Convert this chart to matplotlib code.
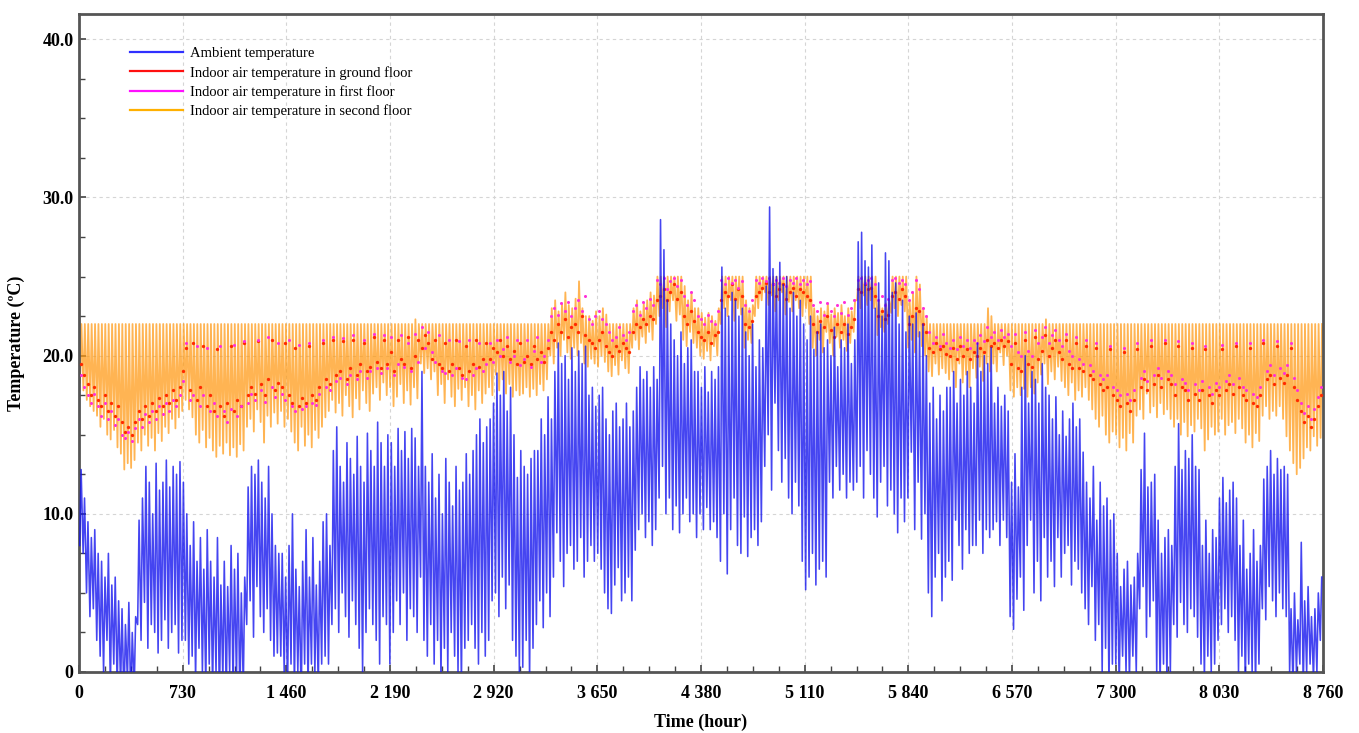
import numpy as np
import matplotlib
matplotlib.use("Agg")
import matplotlib.pyplot as plt
from matplotlib.lines import Line2D
from matplotlib.ticker import MultipleLocator

plt.rcParams['font.family'] = ['Liberation Serif', 'DejaVu Serif']

# ---------------- data (one value per day) ----------------
amb_max = [
    12.8, 11.0, 9.5, 8.5, 9.0, 7.5, 7.0, 6.0, 7.5, 5.5, 6.0, 4.5, 4.0, 3.0, 4.4, 2.5, 3.5, 9.6, 11.0, 13.0, 12.0, 10.0, 13.2, 11.5, 12.0, 13.4, 11.7, 13.0, 12.5, 13.3, 12.0,
    10.0, 8.0, 9.5, 7.0, 8.5, 6.5, 9.0, 7.0, 6.0, 8.5, 5.5, 7.0, 5.4, 8.0, 6.5, 7.5, 5.0, 6.0, 11.7, 13.0, 12.5, 13.4, 12.0, 11.0, 13.0, 10.0, 8.0, 7.5,
    7.5, 6.0, 8.0, 10.0, 6.5, 5.4, 7.0, 9.0, 6.0, 8.5, 5.5, 7.0, 9.5, 10.0, 8.0, 14.0, 15.5, 13.0, 12.0, 14.5, 13.5, 12.5, 14.9, 13.0, 12.0, 15.1, 14.0, 13.0, 15.8, 14.5, 13.0,
    15.0, 14.5, 13.0, 15.4, 14.0, 15.2, 13.5, 15.4, 14.8, 13.0, 19.0, 13.0, 12.0, 13.8, 11.0, 12.5, 10.0, 13.5, 12.0, 10.5, 13.0, 11.5, 12.0, 13.8, 12.5, 14.0, 15.0, 16.0, 14.5, 15.5,
    16.0, 17.0, 18.9, 17.5, 19.0, 16.5, 18.0, 15.0, 12.3, 14.0, 13.0, 12.5, 13.5, 14.0, 14.0, 16.0, 15.0, 17.4, 16.0, 19.0, 20.8, 19.5, 20.0, 18.5, 20.5, 19.0, 20.3, 19.5, 20.6, 17.5, 18.0,
    16.8, 17.5, 18.0, 16.0, 15.0, 16.5, 17.0, 15.5, 16.0, 17.0, 15.5, 16.5, 18.0, 19.3, 18.5, 19.0, 18.0, 19.3, 18.5, 28.6, 26.7, 23.5, 22.0, 21.0, 20.0, 21.5, 19.5, 20.5, 21.0, 19.0,
    19.0, 18.0, 19.3, 17.7, 19.0, 18.5, 19.3, 25.6, 23.0, 22.5, 24.0, 23.5, 22.5, 23.0, 21.5, 20.0, 22.0, 19.3, 21.0, 20.5, 24.4, 29.4, 25.5, 25.0, 25.9, 24.5, 25.0, 23.0, 24.0, 22.5, 23.5,
    22.0, 21.0, 22.5, 20.4, 21.5, 22.0, 20.5, 21.0, 20.0, 21.8, 19.3, 21.0, 20.5, 22.0, 19.5, 21.0, 27.2, 27.8, 26.0, 25.6, 27.0, 23.0, 24.6, 22.5, 26.5, 26.0, 24.0, 24.6, 22.0, 23.5, 21.5,
    22.5, 22.0, 22.7, 21.5, 22.0, 20.0, 17.0, 18.0, 16.0, 17.5, 16.5, 18.0, 18.0, 19.0, 17.0, 18.5, 17.5, 19.0, 18.0, 17.0, 20.8, 19.0, 20.0, 19.5, 20.5, 17.0, 18.0, 16.8, 17.5, 16.5,
    12.0, 13.8, 11.7, 18.0, 20.0, 17.0, 19.0, 18.5, 17.0, 19.5, 18.0, 17.5, 16.0, 17.4, 15.0, 16.5, 14.9, 16.0, 17.0, 15.5, 16.0, 13.9, 12.0, 11.0, 13.0, 9.6, 12.0, 10.5, 11.0, 9.6, 10.0,
    7.5, 5.4, 6.5, 7.0, 5.5, 6.0, 7.5, 12.8, 15.1, 11.7, 12.0, 12.5, 9.6, 7.5, 8.5, 9.0, 8.0, 13.0, 15.7, 12.8, 14.0, 13.5, 15.0, 13.0, 12.8, 8.0, 9.6, 7.5, 9.0, 8.5,
    11.0, 12.3, 10.7, 11.5, 12.0, 11.0, 8.0, 9.6, 6.5, 7.5, 9.0, 7.0, 8.0, 12.2, 13.0, 14.0, 12.5, 13.5, 12.8, 13.0, 12.5, 4.0, 5.0, 3.3, 8.2, 4.5, 5.4, 3.5, 4.0, 5.0, 6.0,
]
amb_min = [
    8.0, 7.5, 5.0, 3.5, 4.0, 2.0, 1.0, 0.0, 2.0, -1.0, 0.5, -1.0, -1.0, -2.0, -0.5, -2.0, -1.0, 3.0, 2.0, 4.4, 1.5, 3.0, 2.5, 1.2, 2.0, 3.3, 1.5, 2.5, 3.0, 1.2, 2.0,
    2.0, 0.5, 1.0, -0.5, 1.5, 0.0, -1.0, 0.5, -1.0, 0.0, -2.0, -0.5, -1.5, 0.0, -1.0, -0.5, -2.0, -1.0, 3.0, 4.5, 2.2, 5.4, 3.5, 2.5, 4.0, 2.0, 1.0, 1.2,
    1.0, 0.0, -1.0, 0.5, -1.0, 0.0, -2.0, 0.5, -1.0, 0.5, 0.0, -1.0, 0.5, 1.0, 0.5, 3.0, 4.0, 2.5, 5.0, 3.5, 2.2, 4.5, 3.0, 1.5, 0.0, 2.5, 4.0, 3.0, 2.0, 0.5, 3.5,
    3.0, 0.5, 2.5, 4.5, 3.0, 5.0, 2.0, 4.0, 3.5, 2.5, 6.0, 2.0, 1.0, 3.0, 0.5, 2.0, -0.5, 1.5, 0.0, 2.5, 1.0, 0.0, -1.0, 1.5, 2.0, 3.0, 1.5, 0.5, 2.5, 1.0,
    2.0, 4.5, 5.0, 3.5, 6.0, 4.0, 5.5, 2.0, 1.0, 0.0, 0.3, 2.0, -0.5, 1.5, 3.0, 4.5, 2.8, 5.0, 3.5, 6.0, 8.8, 7.0, 5.4, 7.5, 8.0, 6.5, 7.0, 8.5, 6.0, 7.0, 8.0,
    7.0, 7.5, 6.5, 5.0, 4.0, 3.7, 5.5, 6.6, 4.5, 5.0, 6.0, 4.5, 7.7, 9.0, 10.0, 8.5, 9.5, 8.0, 9.0, 11.0, 13.0, 10.0, 11.0, 9.0, 10.5, 8.8, 10.0, 11.0, 9.5, 10.0,
    8.5, 10.0, 9.0, 10.4, 9.0, 9.5, 8.5, 7.0, 10.0, 6.2, 9.0, 11.0, 8.0, 7.5, 9.8, 7.3, 8.5, 9.0, 8.0, 9.5, 13.0, 15.0, 11.5, 17.0, 14.0, 12.0, 13.5, 11.0, 10.0, 12.0, 10.5,
    7.0, 5.2, 6.0, 7.5, 5.5, 6.5, 7.0, 6.0, 12.0, 11.0, 13.0, 11.5, 12.5, 11.0, 12.0, 11.5, 12.0, 13.0, 11.0, 14.0, 12.5, 11.0, 9.8, 12.0, 13.0, 10.5, 11.5, 10.0, 8.8, 11.0, 9.5,
    11.0, 13.9, 9.0, 12.0, 8.4, 10.0, 5.0, 3.5, 6.0, 7.5, 4.5, 6.0, 7.0, 5.8, 9.6, 8.0, 6.5, 9.0, 7.5, 8.0, 8.0, 9.6, 7.5, 9.0, 8.5, 9.0, 9.5, 8.0, 9.6, 8.5,
    3.5, 2.7, 4.6, 6.0, 3.9, 8.0, 9.6, 5.0, 7.0, 4.5, 8.5, 6.0, 7.0, 5.4, 8.5, 6.0, 7.5, 8.0, 5.5, 7.0, 6.5, 5.0, 4.0, 3.0, 5.4, 2.0, 3.0, 0.0, 1.5, -1.0, 0.5,
    0.5, -1.0, 1.0, 0.0, -0.5, 1.0, 0.0, 4.0, 5.4, 2.2, 3.5, 4.5, 0.0, -1.0, 0.5, -0.5, 0.0, 3.0, 2.2, 4.4, 3.0, 2.5, 4.0, 3.5, 2.2, 0.5, -0.5, 1.0, 0.0, 0.5,
    2.0, 3.0, 4.0, 2.5, 3.5, 2.0, 0.0, 1.0, -1.0, 0.5, 0.0, -1.0, 0.5, 4.0, 3.3, 5.4, 4.5, 3.5, 5.0, 4.0, 3.5, 0.0, -1.0, 0.0, 0.5, -1.0, 0.0, 0.5, -0.5, 0.0, 2.0,
]
second_hi = [
    22, 22, 22, 22, 22, 22, 22, 22, 22, 22, 22, 22, 22, 22, 22, 22, 22, 22, 22, 22, 22, 22, 22, 22, 22, 22, 22, 22, 22, 22, 22,
    22, 22, 22, 22, 22, 22, 22, 22, 22, 22, 22, 22, 22, 22, 22, 22, 22, 22, 22, 22, 22, 22, 22, 22, 22, 22, 22, 22,
    22, 22, 22, 22, 22, 22, 22, 22, 22, 22, 22, 22, 22, 22, 22, 22, 22, 22, 22, 22, 22, 22, 22, 22, 22, 22, 22, 22, 22, 22, 22,
    22, 22, 22, 22, 22, 22, 22, 22, 22.3, 22, 22, 22, 22, 22, 22, 22, 22, 22, 22, 22, 22, 22, 22, 22, 22, 22, 22, 22, 22, 22,
    22, 22, 22, 22, 22, 22, 22, 22, 22, 22, 22, 22, 22, 22, 22, 22, 22, 22, 23, 23.5, 22.8, 23.3, 24, 23.2, 23, 23.6, 24.7, 23, 22.5, 22.5, 22.2,
    22.8, 22.5, 23, 22.6, 22, 22, 22, 22, 22, 22, 22, 23, 23.5, 22.8, 23.3, 23.5, 24, 23.8, 25, 25, 25, 25, 25, 25, 25, 25, 24.4, 23.5, 24, 23,
    23, 22.7, 22.4, 22.7, 22.5, 22.2, 23, 25, 25, 25, 25, 25, 25, 25, 23.5, 23, 23.2, 25, 25, 25, 25, 25, 25, 25, 25, 25, 25, 25, 25, 25, 25,
    25, 25, 25, 23, 22.5, 23, 22.8, 23.3, 22.6, 23, 22.7, 23.2, 22.5, 23, 22.8, 23.5, 25, 25, 25, 25, 25, 25, 23.5, 23, 23.3, 23.5, 25, 25, 25, 25, 25,
    23.5, 24, 25, 24.5, 23, 22.5, 22, 22, 22, 22, 22, 22, 22, 22, 22, 22, 22, 22, 22, 22, 22, 22, 22, 23, 22.5, 22, 22, 22, 22, 22,
    22, 22, 22, 22, 22, 22, 22, 22, 22, 22, 22.3, 22, 22, 22, 22, 22, 22, 22, 22, 22, 22, 22, 22, 22, 22, 22, 22, 22, 22, 22, 22,
    22, 22, 22, 22, 22, 22, 22, 22, 22, 22, 22, 22, 22, 22, 22, 22, 22, 22, 22, 22, 22, 22, 22, 22, 22, 22, 22, 22, 22, 22,
    22, 22, 22, 22, 22, 22, 22, 22, 22, 22, 22, 22, 22, 22, 22, 22, 22, 22, 22, 22, 22, 22, 22, 22, 22, 22, 22, 22, 22, 22, 22,
]
second_lo = [
    18.3, 17.8, 17.2, 16.8, 16.5, 16.2, 15.5, 16.0, 15.0, 14.7, 15.3, 14.2, 13.8, 12.8, 13.2, 12.9, 13.4, 14.5, 14.0, 15.0, 14.3, 14.8, 14.0, 15.1, 14.6, 15.5, 15.1, 16.0, 15.4, 16.1, 16.5,
    17.2, 16.6, 16.1, 15.0, 14.5, 15.3, 14.2, 14.8, 14.0, 13.6, 14.3, 13.8, 14.5, 13.7, 14.2, 13.6, 14.4, 14.0, 15.5, 16.0, 15.2, 16.6, 15.8, 14.5, 16.2, 15.5, 16.4, 15.7,
    16.5, 15.5, 16.0, 15.2, 14.5, 14.0, 15.5, 14.3, 15.0, 14.2, 15.3, 14.8, 15.5, 16.1, 16.5, 17.2, 16.4, 17.0, 16.2, 17.5, 16.8, 16.1, 17.3, 16.6, 17.8, 17.0, 16.5, 17.6, 18.0, 17.2, 18.3,
    17.5, 18.0, 16.8, 17.4, 18.2, 17.0, 17.8, 16.9, 18.0, 17.3, 19.5, 18.9, 19.2, 18.5, 19.0, 17.5, 18.2, 17.0, 18.5, 17.4, 16.8, 17.9, 17.2, 18.0, 16.8, 17.5, 16.6, 17.8, 17.0, 17.6,
    18.0, 17.5, 18.8, 17.8, 18.5, 17.6, 18.2, 17.4, 17.8, 17.5, 17.6, 18.0, 17.4, 17.9, 17.5, 18.2, 17.8, 18.5, 20.0, 19.5, 20.5, 20.0, 21.0, 20.2, 19.8, 20.5, 20.0, 20.8, 19.5, 19.3, 19.8,
    19.5, 19.3, 20.0, 19.6, 19.0, 18.7, 19.4, 18.8, 19.7, 19.2, 18.9, 20.5, 21.0, 20.4, 21.2, 20.8, 21.5, 21.0, 22.0, 22.5, 23.0, 21.8, 22.8, 23.5, 22.2, 22.6, 21.0, 20.6, 21.5, 20.8,
    20.5, 20.0, 19.8, 20.3, 19.7, 20.6, 20.0, 22.0, 23.0, 22.5, 23.5, 22.2, 23.0, 22.6, 20.5, 21.0, 20.8, 22.5, 23.0, 23.5, 24.0, 23.2, 23.8, 22.8, 23.5, 24.0, 22.6, 23.4, 22.8, 23.5, 23.0,
    22.5, 23.0, 22.0, 20.5, 20.0, 21.0, 20.2, 21.5, 20.8, 20.0, 21.2, 20.5, 21.0, 20.3, 20.8, 21.5, 23.5, 23.0, 23.8, 23.2, 23.5, 23.0, 21.3, 21.8, 21.5, 22.0, 22.7, 23.0, 22.5, 23.2, 22.8,
    20.5, 21.0, 20.2, 21.2, 20.6, 20.0, 19.0, 18.7, 19.5, 18.8, 19.2, 18.9, 18.5, 19.0, 18.0, 19.5, 18.3, 18.8, 18.0, 19.2, 18.6, 19.3, 18.4, 19.5, 19.0, 19.5, 19.0, 20.2, 19.4, 20.0,
    17.8, 17.4, 18.0, 17.5, 17.9, 17.4, 18.0, 17.6, 18.3, 18.8, 19.5, 18.2, 19.0, 18.5, 19.3, 18.4, 18.0, 17.5, 18.3, 17.2, 17.8, 17.4, 18.0, 17.2, 16.6, 16.0, 15.5, 16.2, 15.0, 14.5, 15.2,
    15.0, 14.2, 14.8, 14.0, 15.1, 14.5, 16.2, 16.6, 16.0, 17.6, 16.4, 16.8, 16.1, 17.0, 16.3, 16.6, 16.0, 15.5, 16.0, 15.0, 15.8, 14.9, 15.6, 15.2, 16.0, 15.4, 14.0, 14.7, 15.5, 15.0,
    15.2, 16.0, 15.0, 15.6, 15.8, 15.1, 16.0, 15.4, 14.5, 15.0, 14.2, 15.1, 14.6, 16.2, 16.8, 16.0, 16.5, 16.2, 16.8, 16.0, 14.9, 14.0, 13.2, 12.5, 12.9, 13.5, 14.2, 14.0, 14.9, 14.3, 14.8,
]
ground = [
    19.5, 18.8, 18.2, 17.5, 18, 17.2, 16.8, 17.5, 16.5, 17, 16.2, 16.8, 15.8, 15.2, 15.5, 15, 15.8, 16.5, 16, 16.8, 16.2, 17, 16.5, 17.3, 16.8, 17.5, 17, 17.8, 17.2, 18, 19,
    20.5, 17.8, 20.8, 17.2, 18, 20.6, 16.8, 17.5, 16.5, 20.4, 16.8, 16.2, 17, 20.6, 16.5, 17.2, 16.8, 20.8, 17.5, 18, 17.6, 20.9, 18.2, 17.5, 18.5, 21, 17.8, 18.3,
    18, 20.8, 17.5, 17, 20.5, 16.8, 17.3, 17, 20.6, 17.5, 17.2, 18, 20.8, 18.5, 18.2, 21, 18.8, 19, 20.9, 18.5, 19.2, 21, 18.8, 19.5, 20.8, 19, 19.3, 21.2, 19.6, 19.2, 21,
    19.5, 20.2, 19, 21, 19.8, 19.5, 21.2, 19.2, 20, 21, 20.5, 21.3, 20.8, 19.8, 21, 19.5, 19.2, 20.8, 19, 19.5, 21, 19.2, 18.8, 20.6, 19, 19.5, 21, 19.3, 19.8, 20.8,
    19.8, 20.5, 20.2, 21, 20, 20.6, 19.8, 20.3, 19.5, 20.8, 19.6, 20, 19.5, 20.6, 19.8, 20.2, 19.6, 20.5, 21.5, 21, 22, 21.5, 22.3, 21.2, 21.8, 22, 21.5, 22.5, 21.3, 21, 20.8,
    20.5, 21, 21.5, 20.6, 20.2, 20, 20.6, 20.3, 20.8, 20.5, 20.2, 21.5, 22, 21.8, 22.3, 22, 22.5, 22.3, 23.5, 23.8, 24.2, 23.5, 24, 24.5, 23.6, 24, 22.5, 22, 22.8, 22.2,
    21.5, 21.2, 21, 21.5, 20.8, 21.3, 21.5, 23.5, 24, 23.8, 24.5, 23.6, 24.2, 23.8, 22, 21.8, 22.2, 23.8, 24, 24.3, 24.6, 24, 24.5, 23.8, 24.2, 24.5, 23.6, 24, 24.3, 23.8, 24.2,
    24, 23.8, 23.5, 22, 21.5, 22.2, 21.8, 22.5, 21.6, 21.2, 22, 21.5, 22, 21.4, 21.8, 22.3, 24.2, 24, 24.5, 24.2, 24.3, 23.8, 22.5, 22.8, 22.3, 22.6, 23.8, 24, 23.6, 24.2, 23.8,
    22, 22.5, 23, 22.8, 22, 21.5, 20.5, 20.2, 20.8, 20.4, 20.6, 20.1, 20, 20.5, 19.8, 20.6, 20, 20.4, 19.8, 20.2, 20, 20.5, 20.2, 21, 20.6, 20.8, 20.5, 21, 20.6, 20.9,
    19.5, 20.8, 19.2, 19, 21, 19.5, 19.3, 21.2, 19.8, 20.3, 21.3, 20, 20.5, 21, 20.2, 19.8, 21, 19.5, 19.2, 20.8, 19.2, 19, 20.6, 18.8, 18.5, 20.5, 18.2, 17.8, 18, 20.4, 17.5,
    17.2, 16.8, 20.2, 17, 16.5, 17.2, 20.4, 18, 18.5, 17.8, 20.6, 18.2, 18.8, 18, 20.8, 18.5, 18.2, 17.5, 20.6, 18, 17.8, 17.2, 20.5, 17.6, 17.2, 17.8, 20.4, 17.5, 17, 17.8,
    17.5, 20.4, 17.8, 18.2, 17.6, 20.6, 18, 17.5, 17.2, 20.5, 17, 16.8, 17.5, 20.8, 18.5, 18.8, 18.2, 20.6, 18.6, 18.3, 18.8, 20.5, 18, 17.2, 16.5, 15.8, 16.2, 15.5, 16, 16.8, 17.5,
]
first = [
    18.8, 18, 17.5, 17, 17.6, 16.8, 16.2, 17, 16, 16.5, 15.6, 16, 15, 14.8, 15.2, 14.6, 15.4, 16, 15.5, 16.3, 15.8, 16.5, 16, 16.8, 16.3, 17, 16.5, 17.2, 16.8, 17.5, 18.4,
    20.8, 17.2, 17.5, 20.6, 16.8, 17.5, 20.5, 16.5, 17, 16.2, 20.6, 16.5, 15.8, 16.6, 20.7, 16.2, 16.8, 20.9, 17, 17.6, 17.2, 21, 17.8, 17.1, 21.2, 18, 17.4, 20.8,
    17.6, 17.2, 21, 16.8, 16.5, 20.7, 16.6, 16.8, 20.8, 17, 16.9, 17.6, 21, 18, 17.8, 21.2, 18.4, 18.6, 21.1, 18.2, 18.8, 21.3, 18.5, 19, 21, 18.6, 19, 21.4, 19.2, 18.9, 21.3,
    19.2, 21.2, 18.8, 19.5, 21.3, 19.3, 20.8, 19, 21.4, 19.6, 21.8, 20.5, 21.5, 20.2, 19.6, 21.3, 19, 18.9, 21, 18.8, 19.2, 20.9, 18.6, 18.5, 21, 18.8, 19.2, 20.8, 19, 19.5,
    20.8, 19.6, 21, 20, 20.4, 21.2, 19.6, 20, 21, 19.4, 19.8, 21, 19.3, 20.3, 21.2, 19.6, 20, 21, 22.5, 23, 22.6, 23.3, 22.8, 23.4, 22.5, 23, 23.5, 22.8, 23.8, 22.3, 22,
    22.5, 22.8, 22.3, 22, 21.5, 21, 21.2, 21.8, 21.3, 21, 21.5, 22.8, 23.2, 22.6, 23.4, 23, 23.6, 23.2, 24.8, 24.5, 24.9, 24.2, 24.7, 24.9, 24.4, 24.8, 23.8, 23.2, 24, 23.5,
    22.5, 22.3, 22, 22.6, 22.2, 22, 22.8, 24.8, 24.5, 24.9, 24.6, 24.8, 24.3, 24.7, 23.2, 22.8, 23.5, 24.8, 24.6, 24.9, 24.7, 24.9, 24.5, 24.8, 24.6, 24.9, 24.4, 24.8, 24.6, 24.9, 24.5,
    24.8, 24.5, 24.7, 23.2, 22.8, 23.4, 22.6, 23.3, 22.8, 22.5, 23.2, 22.7, 23.4, 22.6, 23, 23.5, 24.8, 24.9, 24.6, 24.8, 24.9, 24.5, 23.5, 23.8, 23.2, 23.6, 24.8, 24.9, 24.6, 24.8, 24.5,
    23.5, 24, 24.8, 24.2, 23, 22.5, 21.5, 20.8, 21.2, 20.6, 21.4, 20.8, 20.5, 21, 20.4, 21.2, 20.6, 21, 20.5, 21, 20.8, 21.3, 20.9, 21.8, 21.2, 21.5, 21, 21.6, 21.2, 21.4,
    20.6, 21.4, 20.2, 20, 21.5, 20.3, 20, 21.6, 20.8, 21.2, 21.8, 20.8, 21.3, 21.6, 21, 20.6, 21.4, 20.3, 20, 21.2, 19.8, 19.5, 21, 19.4, 19, 20.8, 18.8, 18.5, 18.8, 20.6, 18,
    17.8, 17.5, 20.5, 17.6, 17.2, 17.8, 20.8, 18.6, 19, 18.4, 21, 18.8, 19.2, 18.6, 21, 19, 18.8, 18.2, 20.9, 18.5, 18.3, 17.8, 20.8, 18.2, 17.8, 18.4, 20.6, 18, 17.6, 18.3,
    18, 20.7, 18.4, 18.8, 18.2, 20.8, 18.6, 18, 17.8, 20.8, 17.6, 17.4, 18, 21, 19, 19.4, 18.8, 20.9, 19.2, 18.9, 19.4, 20.8, 18.6, 17.8, 17, 16.4, 16.8, 16, 16.6, 17.4, 18,
]

labels = ["Ambient temperature",
          "Indoor air temperature in ground floor",
          "Indoor air temperature in first floor",
          "Indoor air temperature in second floor"]
xtick_vals = [0, 730, 1460, 2190, 2920, 3650, 4380, 5110, 5840, 6570, 7300, 8030, 8760]
xtick_labels = ["0", "730", "1 460", "2 190", "2 920", "3 650", "4 380", "5 110",
                "5 840", "6 570", "7 300", "8 030", "8 760"]
ytick_vals = [0, 10, 20, 30, 40]
ytick_labels = ["0", "10.0", "20.0", "30.0", "40.0"]

# ---------------- build daily zig-zag series ----------------
def zigzag(lo, hi, h_lo, h_hi):
    n = min(len(lo), len(hi))
    d = np.arange(n) * 24.0
    lo = np.asarray(lo[:n], float)
    hi = np.asarray(hi[:n], float)
    if h_lo < h_hi:
        t = np.column_stack([d + h_lo, d + h_hi]).ravel()
        v = np.column_stack([lo, hi]).ravel()
    else:
        t = np.column_stack([d + h_hi, d + h_lo]).ravel()
        v = np.column_stack([hi, lo]).ravel()
    return t, v

t_amb, v_amb = zigzag(amb_min, amb_max, 5, 15)
t_sec, v_sec = zigzag(second_lo, second_hi, 7, 17)
t_gr = np.arange(len(ground)) * 24.0 + 12
t_fi = np.arange(len(first)) * 24.0 + 12

# ---------------- figure ----------------
fig = plt.figure(figsize=(13.59, 7.33), dpi=100)
ax = fig.add_axes([79 / 1359, 1 - 672 / 733, (1323 - 79) / 1359, (672 - 14) / 733])

ax.plot(t_sec, v_sec, color='#FF9810', lw=1.3, alpha=0.72, zorder=2)
ax.plot(t_gr, ground, ls='none', marker='o', ms=2.4, mec='none', color='#FF2A00', zorder=3)
ax.plot(t_fi, first, ls='none', marker='o', ms=2.2, mec='none', color='#FF30D8', zorder=3)
ax.plot(t_amb, v_amb, color='#1010EE', lw=1.15, alpha=0.78, zorder=4)

ax.set_xlim(0, 8760)
ax.set_ylim(0, 41.6)
ax.set_xticks(xtick_vals)
ax.set_xticklabels(xtick_labels)
ax.set_yticks(ytick_vals)
ax.set_yticklabels(ytick_labels)
ax.xaxis.set_minor_locator(MultipleLocator(182.5))
ax.yaxis.set_minor_locator(MultipleLocator(2.5))

for lab in ax.get_xticklabels() + ax.get_yticklabels():
    lab.set_fontweight('bold')
    lab.set_fontsize(13)

ax.tick_params(which='both', direction='in', color='#444444', top=False, right=False)
ax.tick_params(which='major', length=5, width=1.2)
ax.tick_params(which='minor', length=4, width=1.0)
ax.tick_params(axis='x', pad=9)
ax.tick_params(axis='y', pad=4)

for s in ax.spines.values():
    s.set_color('#555555')
    s.set_linewidth(2.0)

ax.grid(True, which='major', color='#D5D5D5', ls=(0, (3, 3)), lw=0.8)
ax.set_axisbelow(True)

ax.set_ylabel("Temperature (ºC)", fontsize=13, fontweight='bold')
ax.yaxis.set_label_coords(-0.0434, 0.5)
ax.set_xlabel("Time (hour)", fontsize=13, fontweight='bold')
ax.xaxis.set_label_coords(0.5, -0.064)

handles = [Line2D([], [], color='#3030FF', lw=1.6),
           Line2D([], [], color='#FF1010', lw=1.6),
           Line2D([], [], color='#FF10FF', lw=1.6),
           Line2D([], [], color='#FFB000', lw=1.6)]
ax.legend(handles, labels, loc='upper left', bbox_to_anchor=((130 - 79) / 1244, 1 - (47 - 14) / 658),
          frameon=False, fontsize=10.5, handlelength=3.6, handletextpad=0.5,
          labelspacing=0.38, borderpad=0, borderaxespad=0)

fig.savefig("out.png", dpi=100)
